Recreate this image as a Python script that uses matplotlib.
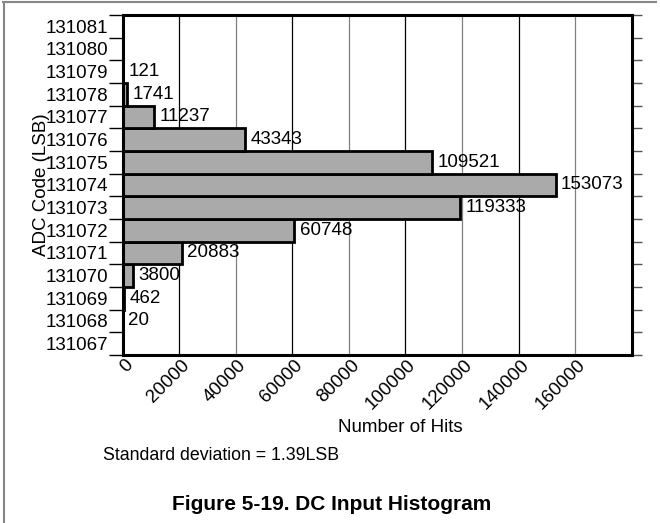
import matplotlib
matplotlib.use("Agg")
import matplotlib.pyplot as plt
from matplotlib.lines import Line2D
from matplotlib.transforms import ScaledTranslation

# ADC codes and number of hits per code
codes = [131067, 131068, 131069, 131070, 131071, 131072, 131073, 131074,
         131075, 131076, 131077, 131078, 131079, 131080, 131081]
hits = [0, 20, 462, 3800, 20883, 60748, 119333, 153073,
        109521, 43343, 11237, 1741, 121, 0, 0]
x_ticks = [0, 20000, 40000, 60000, 80000, 100000, 120000, 140000, 160000]

plt.rcParams['font.family'] = ['Liberation Sans', 'DejaVu Sans']
FS = 13.5

W, H = 660, 523
fig = plt.figure(figsize=(W / 100, H / 100), dpi=100)

# axes box in pixels
left, right, top, bottom = 122.5, 631.7, 15, 355
ax = fig.add_axes([left / W, 1 - bottom / H, (right - left) / W, (bottom - top) / H])

# grid lines, alternating dark/grey like the original
for i, t in enumerate(x_ticks[1:]):
    ax.axvline(t, color='black' if i % 2 == 0 else '#808080', lw=0.9, zorder=0)

ax.barh(codes, hits, height=1.0, color='#aaaaaa', edgecolor='black', linewidth=2.0, zorder=2)

for c, h in zip(codes, hits):
    if h > 0:
        ax.annotate(str(h), (h, c), xytext=(4, 0), textcoords='offset points',
                    ha='left', va='center', fontsize=FS, zorder=3)

ax.set_xlim(0, 180000)
ax.set_ylim(codes[0] - 0.5, codes[-1] + 0.5)

ax.set_xticks(x_ticks)
ax.set_xticklabels([str(t) for t in x_ticks], rotation=45, ha='right',
                   rotation_mode='anchor', fontsize=FS)
ax.tick_params(axis='x', length=0, pad=6)
shift = ScaledTranslation(2 / 100, 7 / 100, fig.dpi_scale_trans)
for lab in ax.get_xticklabels():
    lab.set_transform(lab.get_transform() + shift)

bounds = [c - 0.5 for c in codes] + [codes[-1] + 0.5]
ax.set_yticks(bounds)
ax.set_yticklabels([])
ax.set_yticks(codes, minor=True)
ax.set_yticklabels([str(c) for c in codes], minor=True, fontsize=FS)
ax.tick_params(axis='y', which='major', length=10, width=1, color='black')
ax.tick_params(axis='y', which='minor', length=0, pad=10)

sec = ax.secondary_yaxis('right')
sec.set_yticks(bounds)
sec.set_yticklabels([])
sec.tick_params(length=7, width=1, color='#555555')
sec.spines['right'].set_visible(False)

for s in ax.spines.values():
    s.set_linewidth(2.2)

fig.text(41 / W, 1 - 185 / H, 'ADC Code (LSB)', rotation=90, ha='center', va='center', fontsize=FS)
fig.text(400 / W, 1 - 427 / H, 'Number of Hits', ha='center', va='center', fontsize=FS)
fig.text(103 / W, 1 - 456 / H, 'Standard deviation = 1.39LSB', ha='left', va='center', fontsize=12.8)
fig.text(332 / W, 1 - 504 / H, 'Figure 5-19. DC Input Histogram', ha='center', va='center',
         fontsize=15, fontweight='bold')

# page frame lines (top and left)
fig.add_artist(Line2D([3 / W, 656 / W], [1 - 2 / H, 1 - 2 / H], color='#888888', lw=1.5))
fig.add_artist(Line2D([3.5 / W, 3.5 / W], [0, 1 - 2 / H], color='#888888', lw=1.5))

fig.savefig('out.png', dpi=100)
